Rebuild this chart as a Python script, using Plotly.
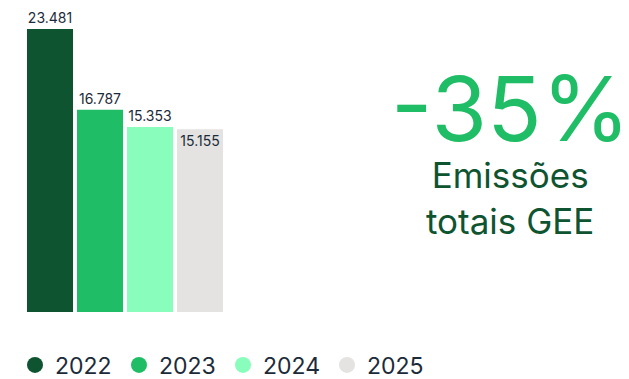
import plotly.graph_objects as go

# emissoes totais GEE (tCO2e) por ano
years = ["2022", "2023", "2024", "2025"]
emissions = [23481, 16787, 15353, 15155]
bar_colors = ["#0e5430", "#1fbd66", "#89fdbb", "#e4e3e1"]
label_pos = ["outside", "outside", "outside", "inside"]

headline = "-35%"
subtitle = "Emissões<br>totais GEE"

W, H = 629, 379

fig = go.Figure()

fig.add_trace(
    go.Bar(
        x=years,
        y=emissions,
        marker=dict(color=bar_colors, line=dict(width=0)),
        texttemplate="%{y:,.0f}",
        textposition=label_pos,
        insidetextanchor="end",
        constraintext="none",
        cliponaxis=False,
        textfont=dict(family="Inter", size=14, color="#1c2b3a"),
        showlegend=False,
        hoverinfo="skip",
    )
)

# legend entries as circles
for year, color in zip(years, bar_colors):
    fig.add_trace(
        go.Scatter(
            x=[None],
            y=[None],
            mode="markers",
            name=year,
            marker=dict(color=color, size=18, symbol="circle"),
        )
    )

fig.add_annotation(
    text=headline,
    xref="paper", yref="paper",
    x=510 / W, y=1 - 109 / H,
    xanchor="center", yanchor="middle",
    showarrow=False,
    font=dict(family="Inter", size=90, color="#1fbd66"),
)
fig.add_annotation(
    text=subtitle,
    xref="paper", yref="paper",
    x=510 / W, y=1 - 198 / H,
    xanchor="center", yanchor="middle",
    showarrow=False,
    font=dict(family="Inter", size=35, color="#0e5430"),
)

fig.update_layout(
    width=W,
    height=H,
    margin=dict(l=0, r=0, t=0, b=0, autoexpand=False),
    paper_bgcolor="white",
    plot_bgcolor="white",
    separators=",.",
    bargap=0.08,
    xaxis=dict(
        domain=[25 / W, 225 / W],
        visible=False,
        range=[-0.5, 3.5],
        fixedrange=True,
    ),
    yaxis=dict(
        domain=[(H - 312) / H, 1],
        visible=False,
        range=[0, 25887],
        fixedrange=True,
    ),
    legend=dict(
        orientation="h",
        x=15 / W,
        xanchor="left",
        y=(H - 365) / H,
        yanchor="middle",
        entrywidth=59,
        font=dict(family="Inter", size=23, color="#1c2b3a"),
        bgcolor="rgba(0,0,0,0)",
    ),
    showlegend=True,
)

fig.write_html(
    "out.html",
    config={"displayModeBar": False},
    post_script=(
        "document.body.style.margin = '0';"
        "document.documentElement.style.overflow = 'hidden';"
        "document.body.style.overflow = 'hidden';"
    ),
)
